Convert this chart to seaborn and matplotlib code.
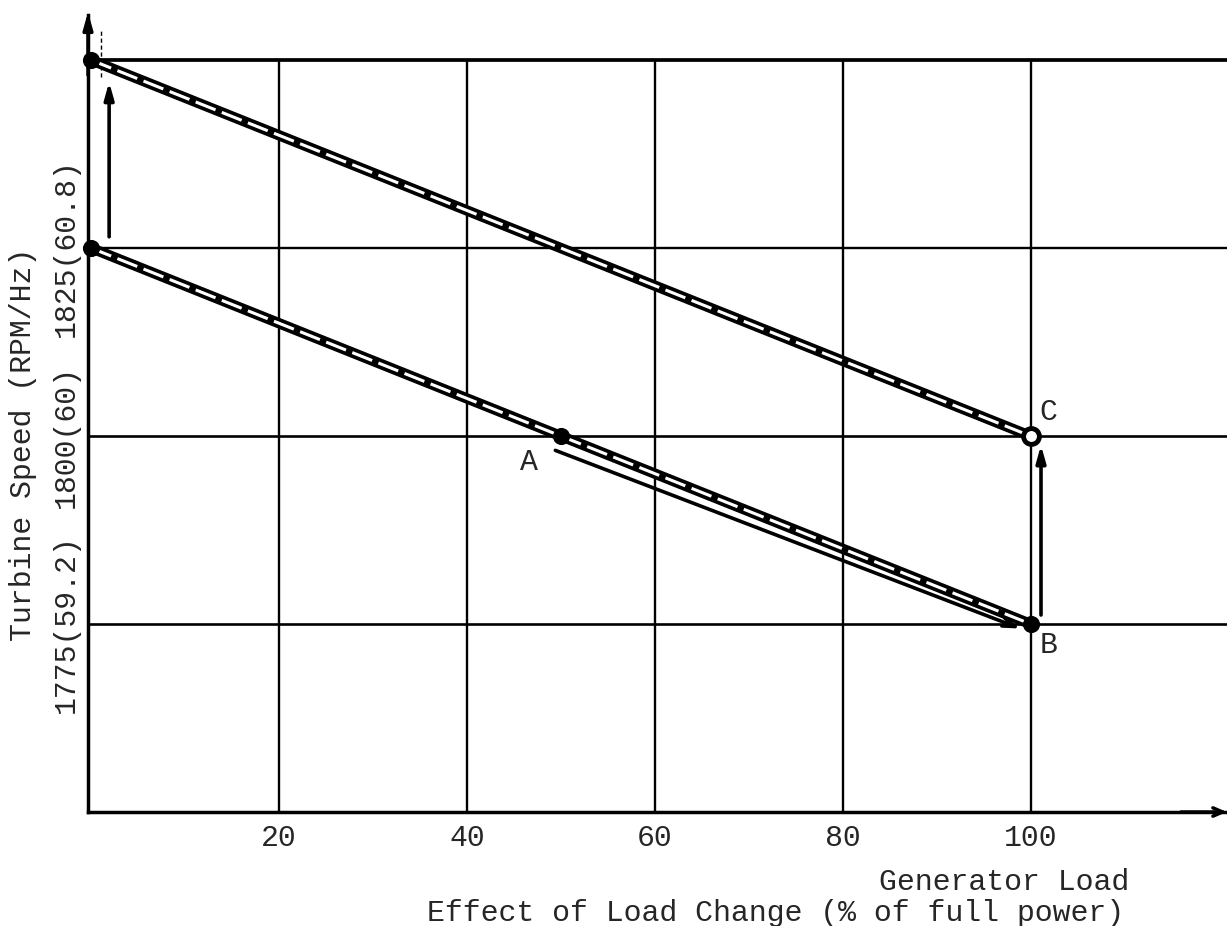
import matplotlib
matplotlib.use("Agg")
import matplotlib.pyplot as plt
import seaborn as sns
import pandas as pd

# droop lines (load %, turbine speed rpm)
line_names = ["upper", "upper", "lower", "lower"]
line_load = [0, 100, 0, 100]
line_speed = [1850, 1800, 1825, 1775]

# marked points
dot_load = [0, 0, 50, 100]
dot_speed = [1850, 1825, 1800, 1775]
ring_load = [100]
ring_speed = [1800]

point_labels = ["A", "B", "C"]
point_label_load = [46.6, 101.9, 101.9]
point_label_speed = [1796.5, 1772.2, 1803.2]

x_ticks = [20, 40, 60, 80, 100]
x_tick_labels = ["20", "40", "60", "80", "100"]
y_grid = [1775, 1800, 1825, 1850]
y_ticks = [1775, 1800, 1825]
y_tick_labels = ["1775(59.2)", "1800(60)", "1825(60.8)"]

# arrows: (tail load, tail speed, head load, head speed)
arrow_tail_load = [1.9, 101.1]
arrow_tail_speed = [1826.5, 1776.2]
arrow_head_load = [1.9, 101.1]
arrow_head_speed = [1847.1, 1798.8]
diag_tail = (49.4, 1798.1)
diag_head = (98.9, 1774.4)

XMIN, XMAX = -0.35, 120.9
YMIN, YMAX = 1750, 1858

sns.set_style("white")
plt.rcParams['font.family'] = ['Liberation Mono', 'DejaVu Sans Mono']
FS = 21.5

fig = plt.figure(figsize=(12.27, 9.26), dpi=100)
ax = fig.add_axes([88 / 1227, 114 / 926, 1139 / 1227, 812 / 926])

# grid
ax.vlines(x_ticks, YMIN, 1850, color="black", lw=1.7, zorder=1)
ax.hlines(y_grid, XMIN, XMAX, color="black", lw=[1.9, 1.9, 1.7, 2.7], zorder=1)

df = pd.DataFrame({"load": line_load, "speed": line_speed, "line": line_names})
sns.lineplot(data=df, x="load", y="speed", units="line", estimator=None,
             sort=False, color="black", linewidth=7.5, ax=ax, zorder=3)
sns.lineplot(data=df, x="load", y="speed", units="line", estimator=None,
             sort=False, color="white", linewidth=2.2, linestyle=(0, (7, 2.2)),
             ax=ax, zorder=4)

sns.scatterplot(x=dot_load, y=dot_speed, color="black", s=130, edgecolor="black",
                ax=ax, zorder=5, clip_on=False)
sns.scatterplot(x=ring_load, y=ring_speed, facecolor="white", edgecolor="black",
                s=130, linewidth=3.5, ax=ax, zorder=5)

for lab, lx, ly in zip(point_labels, point_label_load, point_label_speed):
    ax.text(lx, ly, lab, fontsize=FS, ha="center", va="center")

for tx, ty, hx, hy in zip(arrow_tail_load, arrow_tail_speed,
                          arrow_head_load, arrow_head_speed):
    ax.annotate("", xy=(hx, hy), xytext=(tx, ty),
                arrowprops=dict(arrowstyle="-|>,head_length=1.0,head_width=0.28",
                                color="black", lw=2.6, shrinkA=0, shrinkB=0))
ax.annotate("", xy=diag_head, xytext=diag_tail,
            arrowprops=dict(arrowstyle="->,head_length=0.9,head_width=0.3",
                            color="black", lw=2.6, shrinkA=0, shrinkB=0))

# small dashed mark at top left
ax.plot([1.06, 1.06], [1847.7, 1854], color="black", lw=1, ls=(0, (3, 2)))

# axis arrows
ax.annotate("", xy=(XMIN, 1856.4), xytext=(XMIN, 1848),
            arrowprops=dict(arrowstyle="-|>,head_length=1.0,head_width=0.28",
                            color="black", lw=2.5, shrinkA=0, shrinkB=0),
            annotation_clip=False)
ax.annotate("", xy=(XMAX, YMIN), xytext=(116, YMIN),
            arrowprops=dict(arrowstyle="->,head_length=0.7,head_width=0.3",
                            color="black", lw=2.5, shrinkA=0, shrinkB=0),
            annotation_clip=False)

ax.set_xlim(XMIN, XMAX)
ax.set_ylim(YMIN, YMAX)
for side in ["top", "right"]:
    ax.spines[side].set_visible(False)
for side in ["left", "bottom"]:
    ax.spines[side].set_linewidth(2.5)
    ax.spines[side].set_color("black")
ax.spines["left"].set_bounds(YMIN, 1856)

ax.set_xticks(x_ticks)
ax.set_xticklabels(x_tick_labels, fontsize=FS)
ax.set_yticks(y_ticks)
ax.set_yticklabels(y_tick_labels, fontsize=FS, rotation=90, va="center")
ax.tick_params(axis="both", length=0)
ax.tick_params(axis="x", pad=9)
ax.tick_params(axis="y", pad=6)
ax.set_xlabel("")
ax.set_ylabel("")

ax.text(-0.057, 0.453, "Turbine Speed (RPM/Hz)", transform=ax.transAxes,
        rotation=90, ha="center", va="center", fontsize=FS)
ax.text(0.804, -0.086, "Generator Load", transform=ax.transAxes,
        ha="center", va="center", fontsize=FS)
ax.text(0.604, -0.124, "Effect of Load Change (% of full power)",
        transform=ax.transAxes, ha="center", va="center", fontsize=FS)

fig.savefig("out.png", dpi=100)
